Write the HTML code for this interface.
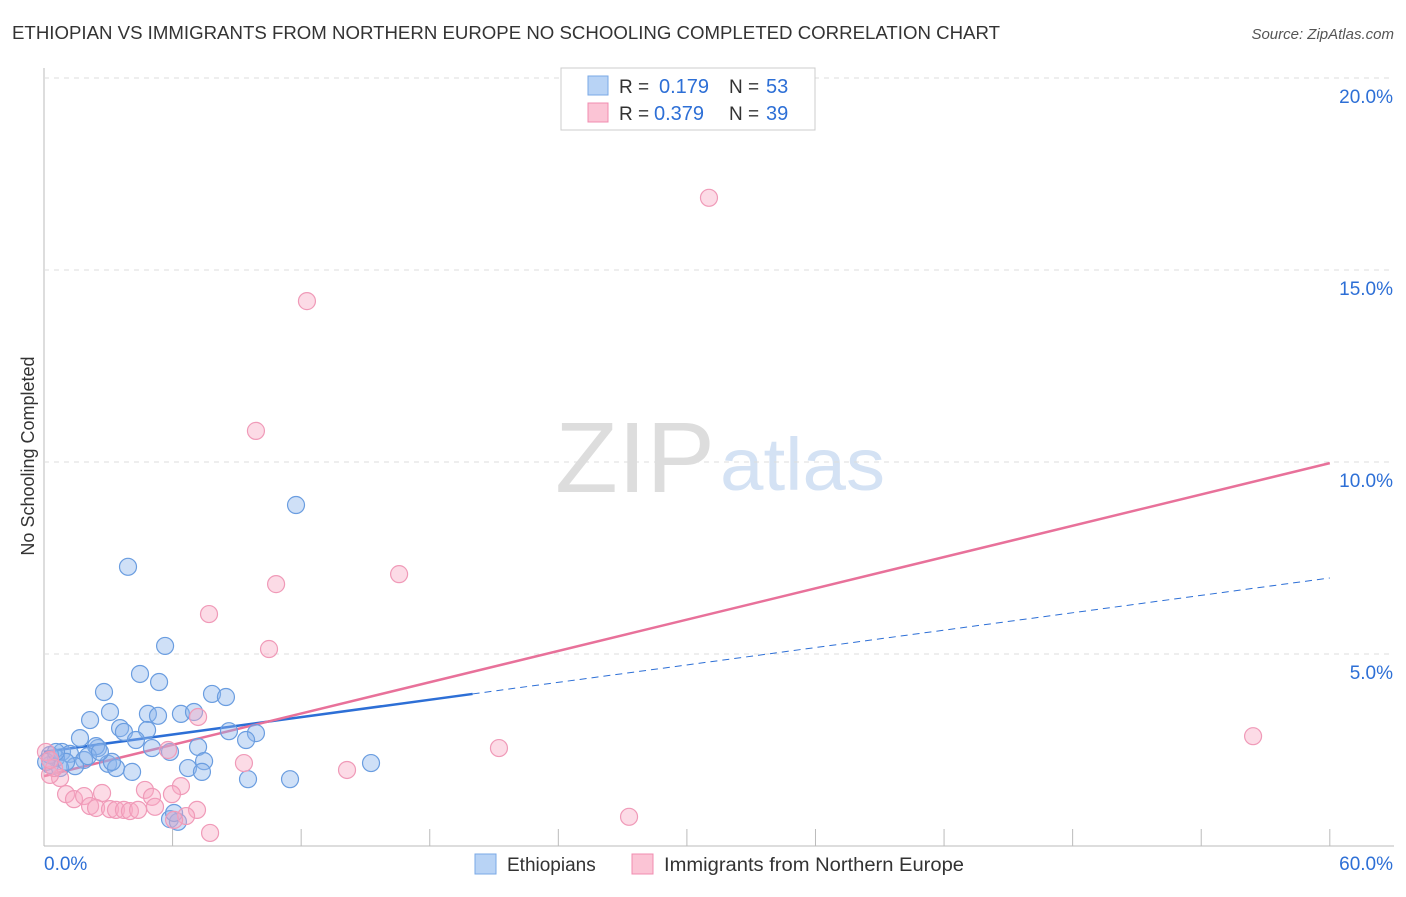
<!DOCTYPE html>
<html><head><meta charset="utf-8"><style>
body{margin:0;background:#fff;font-family:"Liberation Sans",sans-serif;}
svg text{font-family:"Liberation Sans",sans-serif;}
</style></head><body>
<svg id="chart" width="1406" height="892" xmlns="http://www.w3.org/2000/svg">
<text x="12" y="39" font-size="18" fill="#333" textLength="988" lengthAdjust="spacingAndGlyphs">ETHIOPIAN VS IMMIGRANTS FROM NORTHERN EUROPE NO SCHOOLING COMPLETED CORRELATION CHART</text>
<text x="1394" y="39" font-size="15" fill="#555" font-style="italic" text-anchor="end">Source: ZipAtlas.com</text>
<text x="34" y="456" font-size="18" fill="#333" text-anchor="middle" transform="rotate(-90 34 456)">No Schooling Completed</text>
<g><text x="555" y="492" font-size="100" fill="#ddd" font-family="Liberation Serif" textLength="160" lengthAdjust="spacingAndGlyphs">ZIP</text><text x="720" y="490" font-size="74" fill="#d4e2f4" textLength="165" lengthAdjust="spacingAndGlyphs">atlas</text></g>
<g id="grid"></g><g id="lines"></g><g id="pts"></g>
<g>
<rect x="561" y="68" width="254" height="62" fill="#fff" stroke="#ccc"/>
<rect x="588" y="76" width="20" height="19" fill="#b8d3f5" stroke="#7aa8e6"/>
<rect x="588" y="103" width="20" height="19" fill="#fbc4d5" stroke="#f08cb0"/>
<text x="619" y="93" font-size="19" fill="#333">R =</text><text x="659" y="93" font-size="20" fill="#2d6fd6">0.179</text><text x="729" y="93" font-size="19" fill="#333">N =</text><text x="766" y="93" font-size="20" fill="#2d6fd6">53</text>
<text x="619" y="120" font-size="19" fill="#333">R =</text><text x="654" y="120" font-size="20" fill="#2d6fd6">0.379</text><text x="729" y="120" font-size="19" fill="#333">N =</text><text x="766" y="120" font-size="20" fill="#2d6fd6">39</text>
</g>
<g>
<rect x="475" y="854" width="21" height="20" fill="#b8d3f5" stroke="#7aa8e6"/>
<text x="507" y="871" font-size="19" fill="#333">Ethiopians</text>
<rect x="632" y="854" width="21" height="20" fill="#fbc4d5" stroke="#f08cb0"/>
<text x="664" y="871" font-size="19" fill="#333" textLength="300" lengthAdjust="spacingAndGlyphs">Immigrants from Northern Europe</text>
</g>
</svg>
<script>
const xTicks=[0,10,20,30,40,50,60];
const yTicks=[5,10,15,20];
const blueX=[11.76,3.92,5.65,4.48,2.80,5.37,7.84,8.49,3.08,2.15,4.85,5.32,6.39,7.00,3.55,3.73,4.81,8.63,9.89,9.43,4.29,1.68,2.52,2.43,5.04,5.88,7.19,0.84,1.21,1.87,2.99,3.36,1.45,0.56,0.28,0.75,4.11,6.72,7.47,7.37,9.52,11.48,15.26,5.88,6.25,6.07,0.28,0.1,1.03,2.05,3.17,2.61,0.56];
const blueY=[8.88,7.27,5.21,4.48,4.01,4.27,3.96,3.88,3.49,3.28,3.44,3.39,3.44,3.49,3.07,2.97,3.02,2.99,2.94,2.76,2.76,2.81,2.55,2.60,2.55,2.45,2.58,2.45,2.40,2.24,2.14,2.03,2.08,2.29,2.11,2.03,1.93,2.03,2.21,1.93,1.74,1.74,2.16,0.70,0.63,0.86,2.37,2.19,2.19,2.34,2.19,2.45,2.45];
const pinkX=[31.03,12.27,9.89,16.57,10.83,7.70,10.50,7.19,56.42,21.23,9.33,14.14,5.79,27.30,7.75,6.39,5.97,4.71,5.04,5.18,7.14,6.63,1.03,1.40,1.87,2.71,2.15,2.43,3.08,3.36,3.73,4.01,4.39,0.75,0.28,0.47,0.09,0.28,6.07];
const pinkY=[16.88,14.19,10.81,7.08,6.82,6.04,5.13,3.36,2.86,2.55,2.16,1.98,2.50,0.76,0.34,1.56,1.35,1.46,1.28,1.02,0.94,0.78,1.35,1.22,1.30,1.38,1.04,0.99,0.96,0.94,0.94,0.91,0.94,1.77,1.85,2.03,2.45,2.24,0.68];
const blueTrend=[2.45,6.98];
const pinkTrend=[1.82,9.97];
const sx=v=>44+v*21.43, sy=v=>846-v*38.4;
const NS='http://www.w3.org/2000/svg';
function mk(t,a,p){const e=document.createElementNS(NS,t);for(const k in a)e.setAttribute(k,a[k]);p.appendChild(e);return e;}
const grid=document.getElementById('grid');
mk('line',{x1:44,y1:68,x2:44,y2:846,stroke:'#bbb'},grid);
mk('line',{x1:44,y1:846,x2:1394,y2:846,stroke:'#bbb'},grid);
yTicks.forEach(t=>{const g=mk('line',{x1:44,y1:sy(t),x2:1394,y2:sy(t),stroke:'#ddd','stroke-dasharray':'5,5'},grid);


const l=mk('text',{x:1393,y:sy(t)+25,'font-size':19,fill:'#2d6fd6','text-anchor':'end'},grid);l.textContent=t.toFixed(1)+'%';

});
for(let i=1;i<=10;i++){mk('line',{x1:sx(i*6),y1:829,x2:sx(i*6),y2:846,stroke:'#bbb'},grid);}
[[0,'start',44],[60,'end',1393]].forEach(([t,a,x])=>{const l=mk('text',{x:x,y:870,'font-size':19,fill:'#2d6fd6','text-anchor':a},grid);l.textContent=t.toFixed(1)+'%';

});
const pts=document.getElementById('pts');
function dots(X,Y,fill,stroke,name){X.forEach((x,i)=>{const c=mk('circle',{cx:sx(x),cy:sy(Y[i]),r:8.5,fill:fill,stroke:stroke,'stroke-width':1.2},pts);

});}
dots(blueX,blueY,'rgba(140,180,235,0.42)','#6a9de0','ethiopian-point');
dots(pinkX,pinkY,'rgba(248,170,195,0.42)','#f09ab8','northern-europe-point');
const lines=document.getElementById('lines');
const bAt=x=>blueTrend[0]+(blueTrend[1]-blueTrend[0])*x/60, pAt=x=>pinkTrend[0]+(pinkTrend[1]-pinkTrend[0])*x/60;
const bl=mk('line',{x1:sx(0),y1:sy(bAt(0)),x2:sx(20),y2:sy(bAt(20)),stroke:'#2d6fd6','stroke-width':2.5},lines);


const bd=mk('line',{x1:sx(20),y1:sy(bAt(20)),x2:sx(60),y2:sy(bAt(60)),stroke:'#2d6fd6','stroke-width':1,'stroke-dasharray':'7,5'},lines);


const pl=mk('line',{x1:sx(0),y1:sy(pAt(0)),x2:sx(60),y2:sy(pAt(60)),stroke:'#e8719a','stroke-width':2.5},lines);


</script>
</body></html>
